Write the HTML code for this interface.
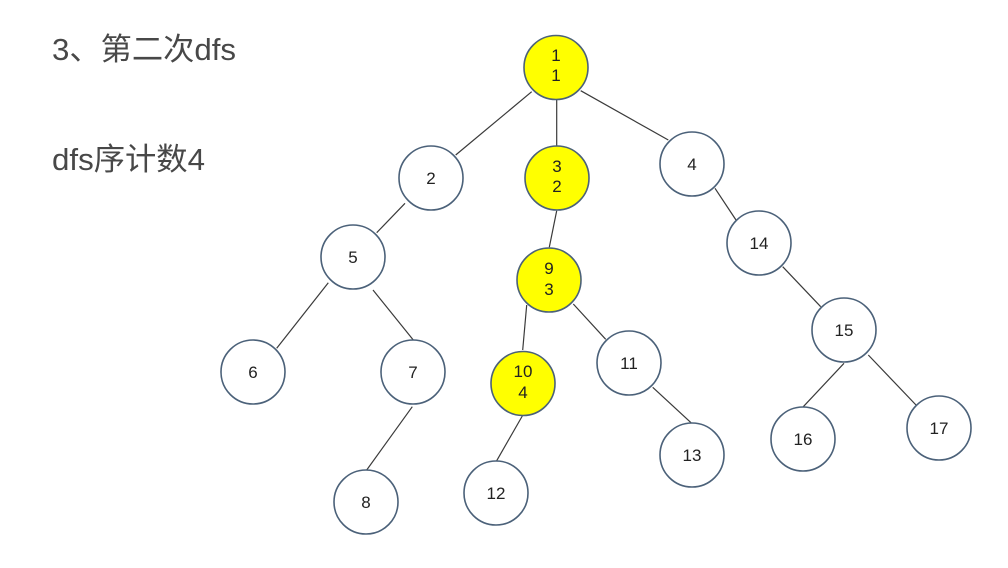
<!DOCTYPE html>
<html>
<head>
<meta charset="utf-8">
<style>
html,body{margin:0;padding:0;background:#fff;}
body{width:1008px;height:568px;overflow:hidden;position:relative;}
svg{position:absolute;left:0;top:0;}
</style>
</head>
<body>
<svg width="1008" height="568" viewBox="0 0 1008 568" xmlns="http://www.w3.org/2000/svg">
  <g font-family="'Liberation Sans','Noto Sans CJK SC',sans-serif" fill="#484848" font-size="31">
    <text x="52" y="60" textLength="184" lengthAdjust="spacingAndGlyphs">3、第二次dfs</text>
    <text x="52" y="170" textLength="153" lengthAdjust="spacingAndGlyphs">dfs序计数4</text>
  </g>
  <g stroke="#3a3a3a" stroke-width="1.2" fill="none">
    <line x1="531.7" y1="91.7" x2="455.7" y2="155"/>
    <line x1="556.7" y1="100" x2="556.7" y2="146"/>
    <line x1="580.7" y1="90.7" x2="668.3" y2="140"/>
    <line x1="405" y1="203.3" x2="376.7" y2="232.7"/>
    <line x1="328.3" y1="282.7" x2="276.7" y2="348.3"/>
    <line x1="373" y1="290" x2="413.3" y2="340"/>
    <line x1="412.3" y1="406.7" x2="366.7" y2="470"/>
    <line x1="556.7" y1="210.7" x2="549.3" y2="247.3"/>
    <line x1="526.7" y1="305" x2="522.7" y2="350"/>
    <line x1="573.3" y1="304" x2="605.7" y2="339.3"/>
    <line x1="652.7" y1="387.3" x2="691" y2="422.7"/>
    <line x1="522.3" y1="416" x2="496.7" y2="460.7"/>
    <line x1="715" y1="188.3" x2="736" y2="220"/>
    <line x1="782.7" y1="266.7" x2="820.7" y2="306.7"/>
    <line x1="844" y1="363.3" x2="803.3" y2="406.7"/>
    <line x1="868.3" y1="355" x2="916" y2="405"/>
  </g>
  <g stroke="#4b6179" stroke-width="1.6">
    <circle cx="556" cy="67.5" r="32" fill="#ffff00"/>
    <circle cx="431" cy="178" r="32" fill="#fff"/>
    <circle cx="557" cy="178" r="32" fill="#ffff00"/>
    <circle cx="692" cy="164" r="32" fill="#fff"/>
    <circle cx="353" cy="257" r="32" fill="#fff"/>
    <circle cx="253" cy="372" r="32" fill="#fff"/>
    <circle cx="413" cy="372" r="32" fill="#fff"/>
    <circle cx="366" cy="502" r="32" fill="#fff"/>
    <circle cx="549" cy="280" r="32" fill="#ffff00"/>
    <circle cx="523" cy="383.5" r="32" fill="#ffff00"/>
    <circle cx="629" cy="363" r="32" fill="#fff"/>
    <circle cx="496" cy="493" r="32" fill="#fff"/>
    <circle cx="692" cy="455" r="32" fill="#fff"/>
    <circle cx="759" cy="243" r="32" fill="#fff"/>
    <circle cx="844" cy="330" r="32" fill="#fff"/>
    <circle cx="803" cy="439" r="32" fill="#fff"/>
    <circle cx="939" cy="428" r="32" fill="#fff"/>
  </g>
  <g font-family="'Liberation Sans',sans-serif" font-size="17" fill="#222" text-anchor="middle">
    <text x="556" y="61">1</text><text x="556" y="81">1</text>
    <text x="431" y="184">2</text>
    <text x="557" y="172">3</text><text x="557" y="192">2</text>
    <text x="692" y="170">4</text>
    <text x="353" y="263">5</text>
    <text x="253" y="378">6</text>
    <text x="413" y="378">7</text>
    <text x="366" y="508">8</text>
    <text x="549" y="274">9</text><text x="549" y="295">3</text>
    <text x="523" y="377">10</text><text x="523" y="398">4</text>
    <text x="629" y="369">11</text>
    <text x="496" y="499">12</text>
    <text x="692" y="461">13</text>
    <text x="759" y="249">14</text>
    <text x="844" y="336">15</text>
    <text x="803" y="445">16</text>
    <text x="939" y="434">17</text>
  </g>
</svg>
</body>
</html>
